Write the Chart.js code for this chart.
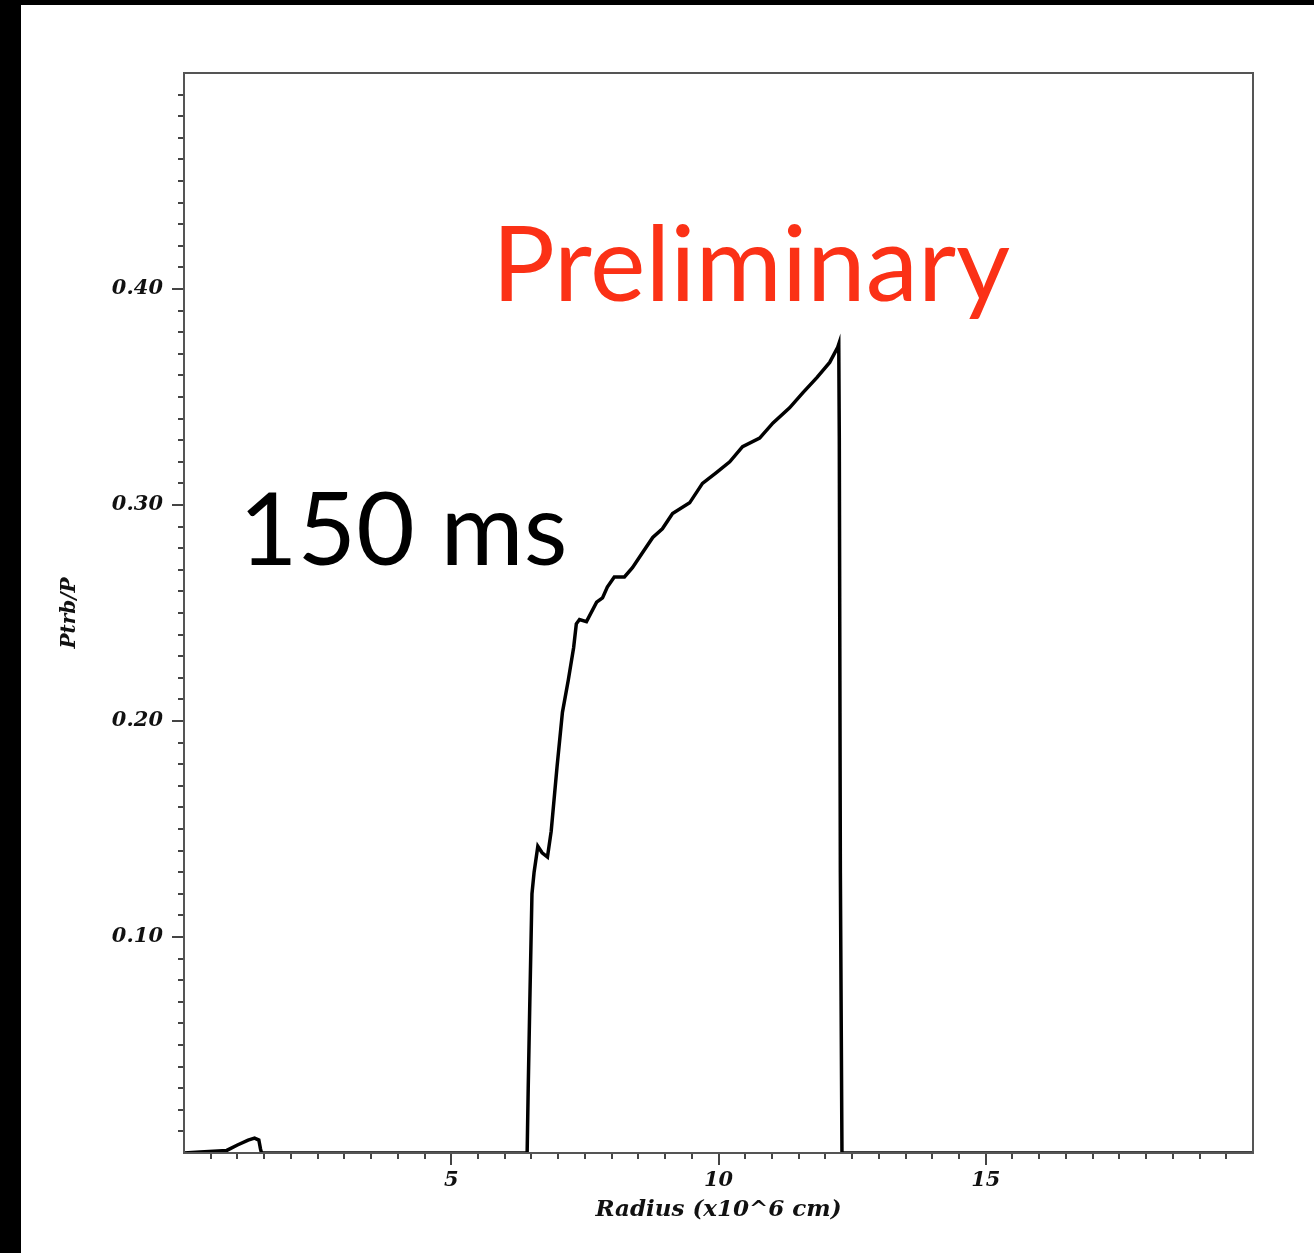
<!DOCTYPE html>
<html>
<head>
<meta charset="utf-8">
<script src="https://cdn.jsdelivr.net/npm/chart.js@4"></script>
<style>
    html, body { margin: 0; padding: 0; background: #000; overflow: hidden; }
    #chart { display: block; margin-left: 21px; margin-top: 5px; background: #fff; }
</style>
</head>
<body>
<canvas id="chart" width="1293" height="1248"></canvas>
<script>
// radius in units of 10^6 cm
const radius = [0, 0.3, 0.8, 1.0, 1.2, 1.32, 1.40, 1.43, 1.45,
    6.42, 6.44, 6.47, 6.51, 6.55, 6.62, 6.70, 6.80, 6.87, 6.98, 7.08,
    7.19, 7.29, 7.34, 7.40, 7.53, 7.72, 7.83, 7.92, 8.05, 8.24, 8.39,
    8.58, 8.77, 8.95, 9.14, 9.46, 9.70, 9.96, 10.21, 10.45, 10.77, 11.02,
    11.33, 11.58, 11.84, 12.08, 12.23, 12.25, 12.26, 12.28, 12.31, 20];

const ptrb = [0, 0.0005, 0.0012, 0.0037, 0.006, 0.0069, 0.006, 0.002, 0,
    0, 0.03, 0.07, 0.12, 0.13, 0.142, 0.139, 0.137, 0.149, 0.179, 0.204,
    0.219, 0.234, 0.245, 0.247, 0.246, 0.255, 0.257, 0.262, 0.2667, 0.2667, 0.271,
    0.278, 0.285, 0.289, 0.296, 0.301, 0.310, 0.315, 0.320, 0.327, 0.331, 0.338,
    0.345, 0.352, 0.359, 0.366, 0.373, 0.3745, 0.331, 0.13, 0, 0];

const xLabels = [5, 10, 15];
const yLabels = [0.1, 0.2, 0.3, 0.4];

const serif = 'DejaVu Serif';

// minor / major tick marks, frame and the two text notes
const decorations = {
    id: 'decorations',
    afterDatasetsDraw(chart) {
        const ctx = chart.ctx,
            a = chart.chartArea,
            x = chart.scales.x,
            y = chart.scales.y;

        ctx.save();
        ctx.strokeStyle = '#444';
        ctx.lineWidth = 2;
        ctx.beginPath();
        for (let i = 1; i < 40; i++) {
            let v = i * 0.5,
                px = Math.round(x.getPixelForValue(v)),
                len = (i % 10 === 0) ? 12 : 6;
            ctx.moveTo(px, a.bottom);
            ctx.lineTo(px, a.bottom + len);
        }
        for (let i = 1; i < 50; i++) {
            let v = i * 0.01,
                py = Math.round(y.getPixelForValue(v)),
                len = (i % 10 === 0) ? 12 : 6;
            ctx.moveTo(a.left, py);
            ctx.lineTo(a.left - len, py);
        }
        ctx.stroke();

        ctx.strokeStyle = '#555';
        ctx.lineWidth = 2;
        ctx.strokeRect(a.left, a.top, a.right - a.left, a.bottom - a.top);

        ctx.textBaseline = 'alphabetic';
        ctx.textAlign = 'left';
        ctx.fillStyle = '#fb3116';
        ctx.font = '400 105px Lato';
        ctx.fillText('Preliminary', 471, 296);

        ctx.fillStyle = '#000';
        ctx.font = '400 101px Lato';
        ctx.fillText('150 ms', 218, 560);
        ctx.restore();
    }
};

const config = {
    type: 'line',
    data: {
        datasets: [{
            data: radius.map((r, i) => ({x: r, y: ptrb[i]})),
            borderColor: '#000',
            borderWidth: 3.5,
            pointRadius: 0,
            tension: 0,
            fill: false
        }]
    },
    options: {
        responsive: false,
        animation: false,
        devicePixelRatio: 1,
        layout: {
            padding: {left: 0, top: 68, right: 61, bottom: 0}
        },
        plugins: {
            legend: {display: false},
            tooltip: {enabled: false}
        },
        scales: {
            x: {
                type: 'linear',
                min: 0,
                max: 20,
                afterFit: s => { s.height = 100; },
                grid: {display: false, drawTicks: false},
                border: {display: false},
                ticks: {
                    stepSize: 5,
                    padding: 15,
                    color: '#111',
                    font: {family: serif, style: 'italic', weight: 'bold', size: 21},
                    callback: v => xLabels.includes(v) ? String(v) : ''
                },
                title: {
                    display: true,
                    text: 'Radius (x10^6 cm)',
                    color: '#111',
                    font: {family: serif, style: 'italic', weight: 'bold', size: 23},
                    padding: {top: 0, bottom: 29}
                }
            },
            y: {
                min: 0,
                max: 0.5,
                afterFit: s => { s.width = 163; },
                grid: {display: false, drawTicks: false},
                border: {display: false},
                ticks: {
                    stepSize: 0.1,
                    padding: 21,
                    color: '#111',
                    font: {family: serif, style: 'italic', weight: 'bold', size: 21},
                    callback: v => yLabels.some(l => Math.abs(l - v) < 1e-9) ? v.toFixed(2) : ''
                },
                title: {
                    display: true,
                    text: 'Ptrb/P',
                    color: '#111',
                    font: {family: serif, style: 'italic', weight: 'bold', size: 20},
                    padding: {top: 37, bottom: 0}
                }
            }
        }
    },
    plugins: [decorations]
};

const myChart = new Chart(document.getElementById('chart'), config);
</script>
</body>
</html>
